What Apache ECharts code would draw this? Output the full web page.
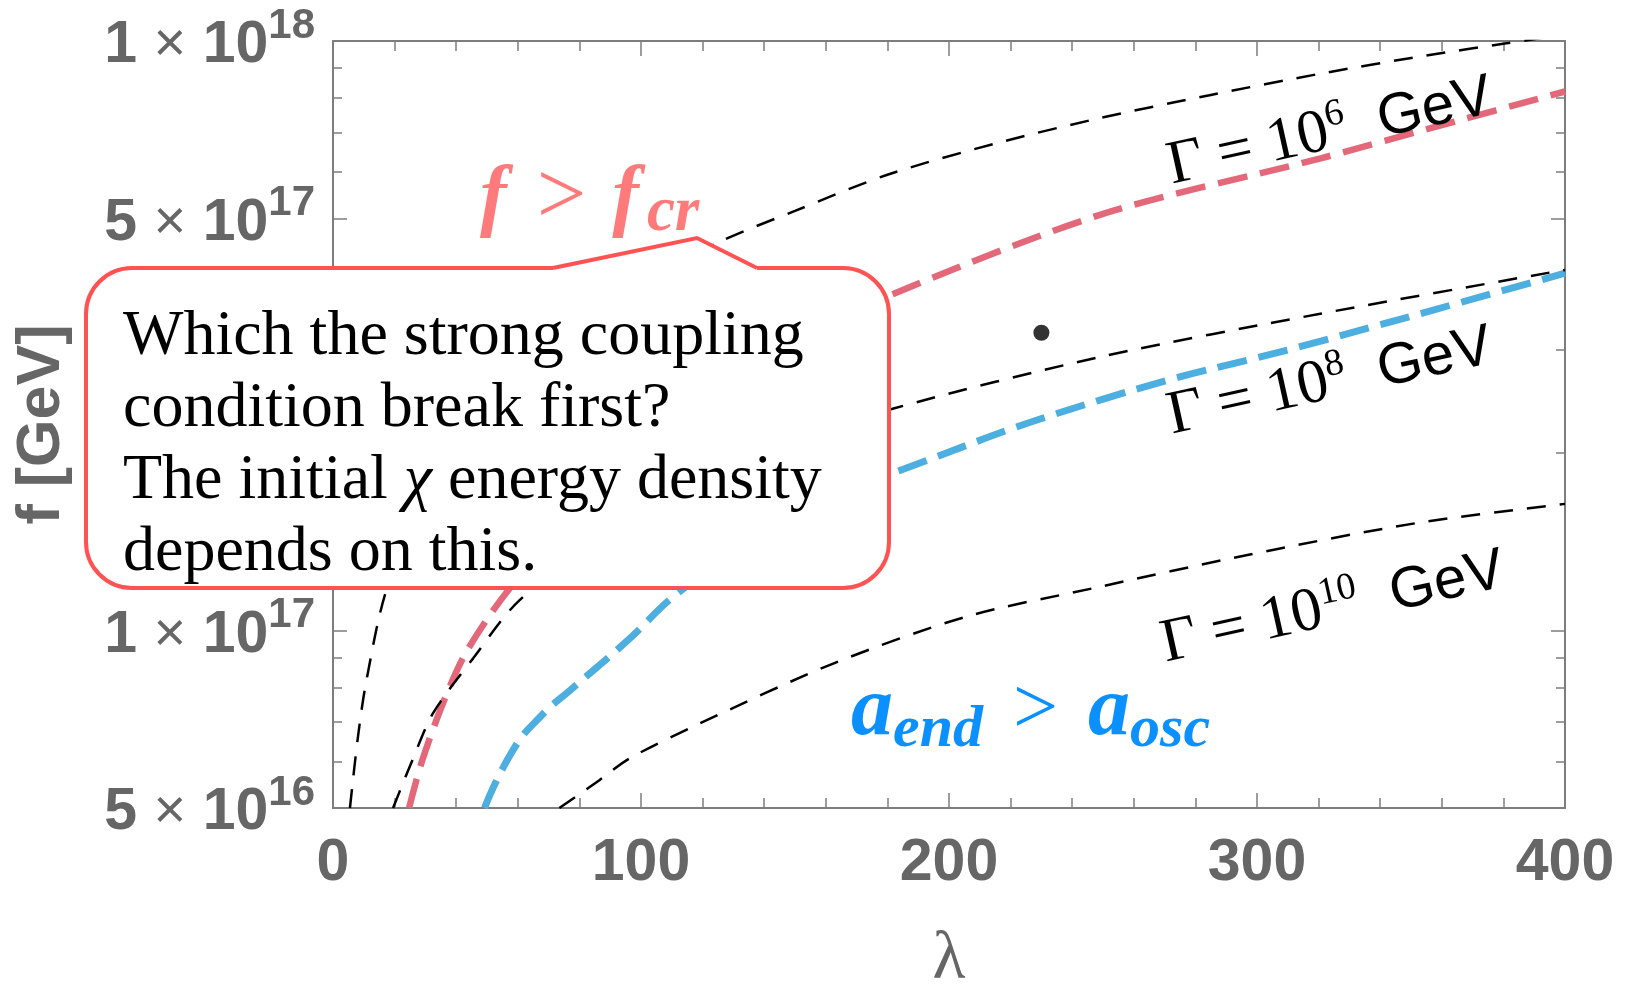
<!DOCTYPE html>
<html>
<head>
<meta charset="utf-8">
<script src="https://cdn.jsdelivr.net/npm/echarts@6/dist/echarts.min.js"></script>
<style>
html,body{margin:0;padding:0;background:#fff;}
#chart{width:1629px;height:985px;}
</style>
</head>
<body>
<div id="chart"></div>
<script>
// ---- data (lambda, f [GeV]) ----
const gamma6Curve = [[5.5,5e16],[8.1,6.6e16],[10.8,8.2e16],[17.3,1.17e17],[30,1.7e17],[50,2.4e17],[75,3.15e17],[100,3.85e17],[125,4.55e17],[150,5.15e17],[180,5.93e17],[215,6.7e17],[249,7.4e17],[285,8.1e17],[321,8.81e17],[355,9.45e17],[381,9.91e17],[400,1.025e18]];
const gamma8Curve = [[19.5,5e16],[25.4,5.96e16],[32.5,7.24e16],[45.5,8.97e16],[60.6,1.126e17],[90,1.47e17],[120,1.79e17],[150,2.09e17],[182,2.38e17],[249,2.91e17],[321,3.45e17],[400,4.09e17]];
const gamma10Curve = [[73.5,5e16],[86.6,5.58e16],[96.3,6.07e16],[119.2,6.96e16],[162.4,8.79e16],[205.7,1.056e17],[246.9,1.18e17],[296.9,1.343e17],[351.3,1.52e17],[400,1.64e17]];
const fcrCurve = [[24.7,5e16],[28.7,5.96e16],[35.7,7.53e16],[43.3,9.2e16],[57.4,1.18e17],[80,1.6e17],[105,2.1e17],[130,2.62e17],[155,3.15e17],[178,3.65e17],[249,5.07e17],[321,6.33e17],[360,7.2e17],[400,8.21e17]];
const aoscCurve = [[49.2,5e16],[58.3,6.25e16],[67.3,7.14e16],[78,8.0e16],[94.3,9.48e16],[114.5,1.186e17],[140,1.446e17],[160,1.655e17],[183,1.86e17],[249,2.46e17],[321,3.1e17],[400,4.04e17]];
const benchmarkPoint = [[230,3.2e17]];
const yLabelValues = [5e16,1e17,5e17,1e18];
const yMinorTickValues = [6e16,7e16,8e16,9e16,2e17,3e17,4e17,6e17,7e17,8e17,9e17];
const xRange = [0,400];
const xStep = 100;

const GRAY_LINE = '#7d7d7d';
const GRAY_TEXT = '#666666';
const sansFont = 'Liberation Sans, Arial, sans-serif';
const serifFont = 'Liberation Serif, Times New Roman, serif';

function sciLabel(value){
  let v = value;
  if (v < 1000) v = Math.pow(10, v);
  let e = Math.floor(Math.log10(v) + 1e-6);
  let m = Math.round(v / Math.pow(10, e));
  if (m >= 10) { m = m / 10; e += 1; }
  return '{a|' + m + ' }{x|×}{a| 10}{s|' + e + '}';
}
const labelRich = {
  a:{fontSize:59,fontWeight:'bold',color:GRAY_TEXT,fontFamily:sansFont,lineHeight:60,padding:[10,0,0,0]},
  x:{fontSize:56,fontWeight:'normal',color:GRAY_TEXT,fontFamily:sansFont,lineHeight:60,padding:[10,0,0,0]},
  s:{fontSize:42,fontWeight:'bold',color:GRAY_TEXT,fontFamily:sansFont,lineHeight:42,padding:[6,0,36,0]}
};
// nudge exactly-at-extent values inside the axis range (float safety)
const yLabelPositions = yLabelValues.map(v => v * (1 - 1e-9) > 5e16 ? v * (1 - 1e-9) : v * (1 + 1e-9));

function yAx(position, tickValues, len, showLabel, showLine){
  return {
    type:'log', logBase:10, min:5e16, max:1e18, position:position,
    axisLine:{show:showLine, lineStyle:{color:GRAY_LINE,width:2}},
    axisTick:{show:true, inside:true, length:len, customValues:tickValues, lineStyle:{color:GRAY_LINE,width:1.5}},
    axisLabel:{show:showLabel, customValues:yLabelPositions, formatter:sciLabel, rich:labelRich, margin:18,
      showMaxLabel:true, showMinLabel:true, hideOverlap:false},
    splitLine:{show:false}, minorTick:{show:false}, minorSplitLine:{show:false}
  };
}
function xAx(position, showLabel){
  return {
    type:'value', min:xRange[0], max:xRange[1], interval:xStep, position:position,
    axisLine:{show:true, lineStyle:{color:GRAY_LINE,width:2}},
    axisTick:{show:true, inside:true, length:15, lineStyle:{color:GRAY_LINE,width:1.5}},
    minorTick:{show:true, splitNumber:5, length:10, lineStyle:{color:GRAY_LINE,width:1.5}},
    axisLabel:{show:showLabel, fontSize:59, fontWeight:'bold', color:GRAY_TEXT, fontFamily:sansFont, margin:26},
    splitLine:{show:false}, minorSplitLine:{show:false}
  };
}

const xBottom = xAx('bottom', true);
xBottom.name = 'λ';
xBottom.nameLocation = 'middle';
xBottom.nameGap = 118;
xBottom.nameTextStyle = {fontSize:68, color:GRAY_TEXT, fontFamily:serifFont};

const yMain = yAx('left', yLabelValues, 14, true, true);
yMain.name = 'f [GeV]';
yMain.nameLocation = 'middle';
yMain.nameRotate = 90;
yMain.nameGap = 260;
yMain.nameTextStyle = {fontSize:61, fontWeight:'bold', color:GRAY_TEXT, fontFamily:sansFont};

function curve(name, data, color, width, dash, z, smooth){
  return {name:name, type:'line', data:data, xAxisIndex:0, yAxisIndex:0, showSymbol:false, symbol:'none',
    smooth:smooth, clip:true, z:z, silent:true,
    lineStyle:{color:color, width:width, type:dash, cap:'butt'}};
}

function gammaLabel(exp){
  return {
    text:'{g|Γ = 10}{p|' + exp + '}{u|  GeV}',
    rich:{
      g:{fontSize:62, fontFamily:serifFont, fill:'#000', lineHeight:62},
      p:{fontSize:38, fontFamily:serifFont, fill:'#000', lineHeight:38, padding:[0,0,32,0]},
      u:{fontSize:58, fontFamily:sansFont, fill:'#000', lineHeight:62}
    },
    align:'center', verticalAlign:'middle'
  };
}
const rot = 12.5 * Math.PI / 180;
const RED_TXT = '#FF7B7B';
const BLUE_TXT = '#0A90FF';

const option = {
  backgroundColor:'#ffffff',
  animation:false,
  grid:{left:333, right:64, top:41, bottom:177, containLabel:false, outerBoundsMode:'none'},
  xAxis:[xBottom, xAx('top', false)],
  yAxis:[yMain, yAx('left', yMinorTickValues, 9, false, false),
         yAx('right', yLabelValues, 14, false, true), yAx('right', yMinorTickValues, 9, false, false)],
  series:[
    curve('f > f_cr', fcrCurve, '#E3687A', 6.5, [30,13], 3, 0.3),
    curve('a_end > a_osc', aoscCurve, '#4DAEE0', 7, [30,12], 3, 0.5),
    curve('Γ = 10^6 GeV', gamma6Curve, '#000', 2.5, [19,14], 4, 0.3),
    curve('Γ = 10^8 GeV', gamma8Curve, '#000', 2.5, [19,14], 4, 0.3),
    curve('Γ = 10^10 GeV', gamma10Curve, '#000', 2.5, [19,14], 4, 0.3),
    {name:'benchmark', type:'scatter', data:benchmarkPoint, symbol:'circle', symbolSize:16, itemStyle:{color:'#000'}, z:5, silent:true}
  ],
  graphic:[
    {type:'text', x:480, y:200, z:50, style:{
      text:'{f1|f}{o|>}{f2|f}{s|cr}',
      rich:{
        f1:{fontSize:80, fontFamily:serifFont, fontStyle:'italic', fontWeight:'bold', fill:RED_TXT, lineHeight:78},
        o:{fontSize:88, fontFamily:serifFont, fill:RED_TXT, lineHeight:78, padding:[0,26,0,30]},
        f2:{fontSize:80, fontFamily:serifFont, fontStyle:'italic', fontWeight:'bold', fill:RED_TXT, lineHeight:78, padding:[0,8,0,0]},
        s:{fontSize:63, fontFamily:serifFont, fontStyle:'italic', fontWeight:'bold', fill:RED_TXT, lineHeight:58, padding:[28,0,0,0]}
      }, align:'left', verticalAlign:'middle'}},
    {type:'text', x:851, y:712, z:50, style:{
      text:'{m|a}{s|end}{o| > }{m|a}{s|osc}',
      rich:{
        m:{fontSize:84, fontFamily:serifFont, fontStyle:'italic', fontWeight:'bold', fill:BLUE_TXT, lineHeight:80},
        o:{fontSize:80, fontFamily:serifFont, fill:BLUE_TXT, lineHeight:80, padding:[0,10,0,10]},
        s:{fontSize:60, fontFamily:serifFont, fontStyle:'italic', fontWeight:'bold', fill:BLUE_TXT, lineHeight:56, padding:[36,0,0,0]}
      }, align:'left', verticalAlign:'middle'}},
    {type:'text', x:1330, y:132, rotation:rot, z:50, style:gammaLabel('6')},
    {type:'text', x:1330, y:382, rotation:rot, z:50, style:gammaLabel('8')},
    {type:'text', x:1333, y:608, rotation:rot, z:50, style:gammaLabel('10')},
    // callout
    {type:'rect', z:60, shape:{x:86, y:268, width:803, height:320, r:46},
      style:{fill:'#ffffff', stroke:'#FF5353', lineWidth:4}},
    {type:'polygon', z:61, shape:{points:[[553,272],[553,268],[697,238],[757,268],[757,272]]},
      style:{fill:'#ffffff', stroke:null}},
    {type:'polyline', z:62, shape:{points:[[553,268],[697,238],[757,268]]},
      style:{stroke:'#FF5353', lineWidth:4, fill:null, lineJoin:'miter'}},
    {type:'text', x:123, y:301, z:63, style:{
      text:'Which the strong coupling\ncondition break first?\nThe initial {i|χ} energy density\ndepends on this.',
      fontSize:64, fontFamily:serifFont, fill:'#000', lineHeight:72,
      rich:{i:{fontSize:64, fontFamily:serifFont, fontStyle:'italic', fill:'#000', lineHeight:72}},
      align:'left', verticalAlign:'top'}}
  ]
};

const chart = echarts.init(document.getElementById('chart'), null, {renderer:'canvas'});
chart.setOption(option);
</script>
</body>
</html>
